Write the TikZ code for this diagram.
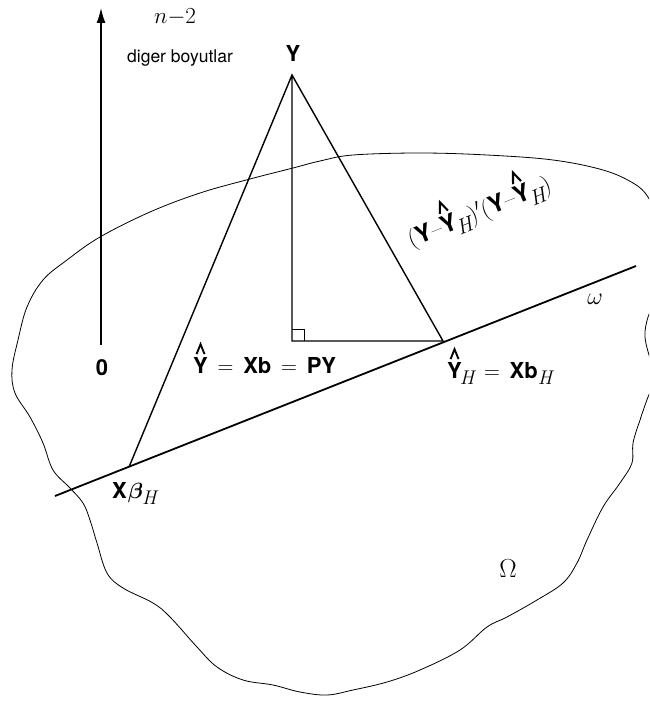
\RequirePackage{fix-cm}
\documentclass[tikz,border=0pt]{standalone}
\usepackage{amsmath,bm}
\usepackage{graphicx}
\usepackage{fontspec}
\newfontfamily\hv{TeX Gyre Heros}
\usetikzlibrary{arrows.meta}
\newcommand\caret{\tikz[x=0.045em,y=0.045em,baseline=0pt]\draw[line width=0.085em,line join=miter,line cap=butt] (0,0)--(4,10)--(8,0);}
\newcommand\hatY{\ooalign{\hv\bfseries Y\cr\hidewidth\raisebox{0.86em}{\caret}\hidewidth\cr}}
\newcommand\sH{\raisebox{-0.3em}{\scalebox{0.9}{\rmfamily\mdseries\itshape H}}}
\newcommand\eqs{${}\,={}\,$}
\tikzset{
  lbl/.style={inner sep=0pt, font=\hv\bfseries\fontsize{22}{26}\selectfont},
  thinline/.style={line width=1.4pt},
  omegaline/.style={line width=1.8pt},
  blob/.style={line width=0.8pt},
  arr/.style={line width=1.4pt, -{Latex[length=15pt,width=9pt]}}
}
\begin{document}
\begin{tikzpicture}[x=1pt,y=-1pt]
\useasboundingbox (0,0) rectangle (649,701);
\begin{scope}
\clip (0,0) rectangle (649,701);
\draw[blob] plot[smooth cycle, tension=0.6] coordinates {
(658,222) (648,197) (633,183) (603,170) (553,160) (487,155) (420,153) (353,155)
(320,161) (293,168) (250,179) (200,193) (150,212) (100,237) (67,260) (43,280)
(27,307) (18,340) (12,370) (15,393) (30,417) (43,443) (53,470) (70,488) (83,503)
(90,520) (97,543) (107,573) (123,588) (153,603) (170,617) (197,647) (217,667)
(243,680) (273,685) (300,692) (327,695) (353,690) (387,682) (420,670) (460,650)
(487,627) (507,617) (537,600) (563,583) (577,563) (587,540) (603,507) (620,483)
(632,463) (633,443) (640,420) (648,397) (656,378) (651,362) (645,337) (648,317)
(656,298) (661,260)};
\end{scope}
% points
\coordinate (Y) at (292,75);
\coordinate (F) at (292,341);
\coordinate (YH) at (443,341);
\coordinate (XB) at (129,467);
\coordinate (wl) at (55,496);
\coordinate (wr) at (636,266);
\coordinate (ab) at (101,345);
\coordinate (at) at (101,8);
% lines
\draw[arr] (ab) -- (at);
\draw[omegaline] (wl) -- (wr);
\draw[thinline] (Y) -- (F) -- (YH) -- (Y) -- (XB);
\draw[line width=0.9pt] ([yshift=12pt]F) -| ([xshift=12pt]F);
% labels
\node[inner sep=0pt, font=\fontsize{23}{27}\selectfont] (n2) at (175,17) {$n{-}2$};
\node[inner sep=0pt, anchor=base, font=\hv\fontsize{17.5}{20}\selectfont] (dig) at (180,63) {diger boyutlar};
\node[lbl, anchor=base] (Ylab) at (293,62) {Y};
\node[lbl, anchor=base] (zero) at (102,375) {0};
\node[lbl, anchor=base west] (yhat) at (193,373) {\hatY\eqs Xb\eqs PY};
\node[lbl, anchor=base west] (yhatH) at (447,378) {\hatY\kern-2pt\sH\eqs Xb\sH};
\node[lbl, anchor=base west] (xbeta) at (112,498) {X\kern1pt$\bm{\beta}$\kern-1pt\sH};
\node[inner sep=0pt, font=\fontsize{24}{28}\selectfont] (om) at (595,299) {$\omega$};
\node[inner sep=0pt, font=\fontsize{26}{30}\selectfont] (Om) at (508,569) {$\Omega$};
\node[inner sep=0pt, font=\hv\bfseries\fontsize{24}{28}\selectfont, rotate=22] (res) at (480,214)
  {{\rmfamily\mdseries(}Y{\rmfamily\mdseries\textendash}\hatY\kern-2pt\sH{\rmfamily\mdseries)}$'${\rmfamily\mdseries(}Y{\rmfamily\mdseries\textendash}\hatY\kern-2pt\sH{\rmfamily\mdseries)}};
\end{tikzpicture}
\end{document}
